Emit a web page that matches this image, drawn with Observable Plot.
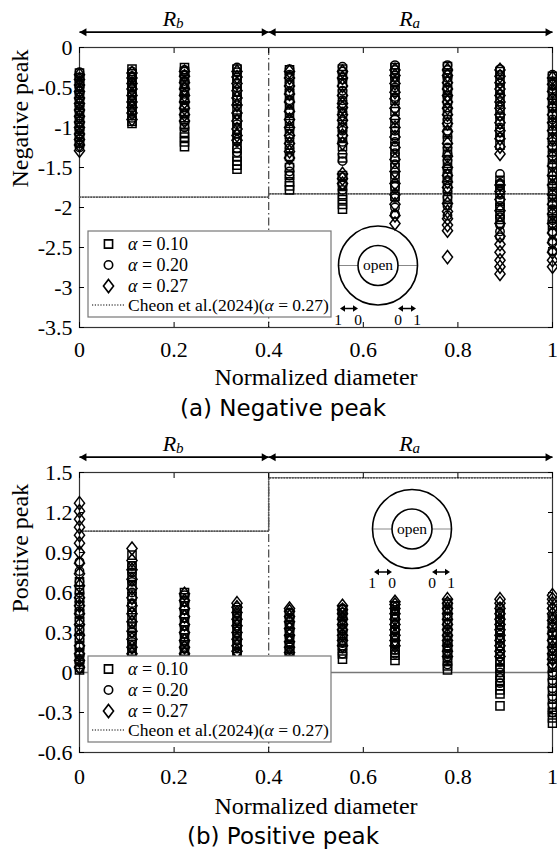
<!DOCTYPE html>
<html><head><meta charset="utf-8">
<script src="https://cdn.jsdelivr.net/npm/d3@7"></script>
<script src="https://cdn.jsdelivr.net/npm/@observablehq/plot@0.6"></script>
<style>body{margin:0;background:#fff;} svg{display:block;}</style>
</head><body><div id="chart"></div>
<script>
const xPositions = [0, 0.111, 0.222, 0.333, 0.444, 0.556, 0.667, 0.778, 0.889, 1];
const xTicks = [0, 0.2, 0.4, 0.6, 0.8, 1];
const negTicks = [0, -0.5, -1, -1.5, -2, -2.5, -3, -3.5];
const posTicks = [1.5, 1.2, 0.9, 0.6, 0.3, 0, -0.3, -0.6];
const seriesNames = ["0.10", "0.20", "0.27"];
const cheonLabel = "Cheon et al.(2024)(";
const cheonX = [0, 0.4, 0.4, 1];
const cheonNeg = [-1.87, -1.87, -1.83, -1.83];
const cheonPos = [1.06, 1.06, 1.46, 1.46];
const regions = [{x1: 0, x2: 0.4, sub: "b"}, {x1: 0.4, x2: 1, sub: "a"}];

// Negative peak (panel a), one list per column of xPositions
const negSquare = [
  [-0.32,-0.38,-0.45,-0.52,-0.6,-0.68,-0.75,-0.82,-0.9,-0.98,-1.05,-1.12,-1.18],
  [-0.27,-0.33,-0.4,-0.48,-0.55,-0.62,-0.7,-0.78,-0.85,-0.92,-0.95],
  [-0.25,-0.3,-0.38,-0.46,-0.55,-0.64,-0.73,-0.82,-0.9,-0.98,-1.06,-1.12,-1.18,-1.24],
  [-0.27,-0.35,-0.45,-0.55,-0.66,-0.78,-0.9,-1.02,-1.14,-1.26,-1.36,-1.42,-1.47,-1.52],
  [-0.28,-0.36,-0.47,-0.58,-0.7,-0.82,-0.95,-1.08,-1.22,-1.36,-1.5,-1.6,-1.68,-1.73,-1.78],
  [-0.27,-0.34,-0.45,-0.58,-0.72,-0.86,-1.0,-1.12,-1.24,-1.38,-1.6,-1.72,-1.84,-1.9,-1.96,-2.02],
  [-0.25,-0.32,-0.42,-0.54,-0.66,-0.8,-0.95,-1.1,-1.24,-1.37,-1.5,-1.62,-1.74,-1.86],
  [-0.24,-0.32,-0.42,-0.54,-0.66,-0.8,-0.94,-1.08,-1.16,-1.3,-1.45,-1.58,-1.62,-1.76,-1.9],
  [-0.3,-0.4,-0.52,-0.64,-0.78,-0.92,-1.06,-1.22,-1.66,-1.72,-1.78,-1.92,-2.0,-2.08,-2.15],
  [-0.36,-0.46,-0.58,-0.7,-0.84,-0.98,-1.12,-1.25,-1.4,-1.55,-1.66,-1.8,-1.94,-2.06,-2.14,-2.22]
];
const negCircle = [
  [-0.31,-0.37,-0.44,-0.5,-0.58,-0.65,-0.73,-0.8,-0.88,-0.95,-1.03,-1.1,-1.2,-1.25],
  [-0.3,-0.36,-0.43,-0.5,-0.58,-0.66,-0.73,-0.8,-0.88],
  [-0.28,-0.34,-0.42,-0.5,-0.58,-0.66,-0.75,-0.83,-0.92,-1.0],
  [-0.25,-0.31,-0.4,-0.5,-0.6,-0.72,-0.84,-0.96,-1.08,-1.18,-1.26,-1.31],
  [-0.27,-0.34,-0.44,-0.55,-0.66,-0.78,-0.9,-1.02,-1.14,-1.26,-1.38,-1.48,-1.55,-1.6],
  [-0.24,-0.3,-0.4,-0.54,-0.66,-0.8,-0.92,-1.04,-1.18,-1.33,-1.42,-1.62,-1.72,-1.78],
  [-0.22,-0.28,-0.38,-0.5,-0.62,-0.76,-0.9,-1.04,-1.18,-1.32,-1.46,-1.6,-1.74,-1.88,-2.0,-2.08],
  [-0.22,-0.28,-0.38,-0.5,-0.62,-0.75,-0.9,-1.04,-1.25,-1.33,-1.41,-1.52,-1.66,-1.8,-1.87,-1.98,-2.1],
  [-0.27,-0.34,-0.45,-0.58,-0.72,-0.86,-1.0,-1.12,-1.58,-1.7,-1.84,-1.98,-2.12,-2.22,-2.3,-2.37],
  [-0.34,-0.42,-0.52,-0.64,-0.76,-0.9,-1.04,-1.18,-1.32,-1.46,-1.6,-1.74,-1.88,-2.02,-2.16,-2.3,-2.42,-2.54]
];
const negDiamond = [
  [-0.34,-0.4,-0.47,-0.55,-0.63,-0.7,-0.78,-0.86,-0.93,-1.0,-1.08,-1.15,-1.22,-1.29],
  [-0.32,-0.38,-0.45,-0.52,-0.6,-0.68,-0.75,-0.82,-0.9],
  [-0.3,-0.36,-0.44,-0.52,-0.6,-0.68,-0.76,-0.84,-0.92],
  [-0.3,-0.37,-0.45,-0.54,-0.63,-0.72,-0.82,-0.92,-1.02,-1.1,-1.16],
  [-0.3,-0.38,-0.48,-0.58,-0.68,-0.8,-0.9,-1.0,-1.1,-1.2,-1.3,-1.38],
  [-0.3,-0.38,-0.48,-0.6,-0.7,-0.75,-0.84,-0.91,-1.0,-1.1,-1.2,-1.58,-1.64,-1.7],
  [-0.28,-0.35,-0.45,-0.56,-0.64,-0.76,-0.89,-1.0,-1.12,-1.25,-1.4,-1.55,-1.7,-1.84,-1.96,-2.1,-2.2],
  [-0.28,-0.35,-0.44,-0.52,-0.6,-0.68,-0.76,-0.84,-0.95,-1.05,-1.2,-1.36,-1.5,-1.6,-1.68,-1.75,-1.95,-2.05,-2.14,-2.22,-2.29,-2.62],
  [-0.28,-0.36,-0.44,-0.52,-0.6,-0.68,-0.76,-0.84,-0.94,-1.04,-1.14,-1.24,-1.33,-1.72,-1.8,-1.9,-2.04,-2.2,-2.36,-2.46,-2.56,-2.66,-2.74,-2.83],
  [-0.38,-0.46,-0.55,-0.64,-0.74,-0.84,-0.94,-1.04,-1.14,-1.24,-1.36,-1.48,-1.6,-1.72,-1.84,-1.96,-2.08,-2.2,-2.32,-2.44,-2.56,-2.66,-2.74]
];

// Positive peak (panel b)
const posSquare = [
  [0.02,0.06,0.1,0.15,0.2,0.26,0.32,0.38,0.44,0.5,0.56,0.62,0.68],
  [0.12,0.16,0.21,0.27,0.34,0.41,0.49,0.57,0.65,0.72,0.8,0.88],
  [0.12,0.16,0.21,0.26,0.32,0.38,0.44,0.5,0.56,0.6],
  [0.14,0.18,0.22,0.27,0.32,0.37,0.42,0.47],
  [0.12,0.16,0.2,0.25,0.3,0.35,0.4,0.44],
  [0.1,0.14,0.18,0.23,0.28,0.33,0.38,0.43,0.47],
  [0.09,0.13,0.17,0.22,0.27,0.32,0.37,0.42,0.47,0.5],
  [0.02,0.05,0.09,0.14,0.19,0.24,0.3,0.36,0.42,0.47,0.52],
  [-0.25,-0.16,-0.13,-0.1,-0.06,-0.02,0.03,0.08,0.14,0.2,0.26,0.32,0.38,0.44],
  [-0.38,-0.34,-0.3,-0.26,-0.2,-0.14,-0.08,-0.02,0.04,0.1,0.16,0.22,0.28,0.34,0.4]
];
const posCircle = [
  [0.03,0.08,0.13,0.19,0.25,0.32,0.39,0.46,0.53,0.6,0.68,0.76,0.83],
  [0.13,0.18,0.23,0.3,0.37,0.45,0.52,0.6,0.68,0.75,0.8],
  [0.13,0.18,0.23,0.29,0.35,0.41,0.47,0.53,0.58],
  [0.15,0.19,0.24,0.29,0.34,0.39,0.44,0.49],
  [0.13,0.17,0.21,0.26,0.31,0.36,0.41,0.45],
  [0.14,0.18,0.22,0.26,0.31,0.36,0.41,0.45,0.48],
  [0.14,0.17,0.21,0.26,0.31,0.36,0.41,0.46,0.5],
  [0.06,0.1,0.14,0.18,0.22,0.27,0.32,0.37,0.42,0.47,0.51],
  [-0.08,-0.04,0.0,0.04,0.08,0.12,0.16,0.2,0.25,0.3,0.35,0.4,0.45,0.49],
  [-0.3,-0.24,-0.18,-0.12,-0.06,0.0,0.06,0.12,0.18,0.24,0.3,0.36,0.42,0.48]
];
const posDiamond = [
  [0.04,0.09,0.14,0.2,0.28,0.36,0.44,0.5,0.56,0.65,0.74,0.82,0.9,0.97,1.03,1.09,1.15,1.21,1.27],
  [0.14,0.19,0.25,0.31,0.38,0.44,0.5,0.56,0.63,0.7,0.77,0.84,0.93],
  [0.14,0.19,0.24,0.3,0.36,0.42,0.48,0.54,0.59],
  [0.16,0.2,0.25,0.3,0.35,0.4,0.45,0.49,0.52],
  [0.15,0.19,0.23,0.28,0.33,0.38,0.42,0.46,0.48],
  [0.2,0.24,0.28,0.32,0.36,0.4,0.44,0.47,0.5],
  [0.2,0.24,0.28,0.32,0.36,0.4,0.44,0.48,0.51,0.53],
  [0.12,0.16,0.2,0.24,0.28,0.32,0.36,0.4,0.44,0.48,0.52,0.55],
  [0.12,0.16,0.2,0.24,0.28,0.32,0.36,0.4,0.44,0.48,0.52,0.55],
  [0.06,0.1,0.14,0.19,0.24,0.29,0.34,0.39,0.44,0.48,0.52,0.55,0.58]
];

const serif = "'Liberation Serif','Times New Roman',serif";
const capFont = "'DejaVu Sans','Noto Sans',sans-serif";
const W = 557, ML = 79, MR = 5;

// custom tall diamond (MATLAB-like)
const tallDiamond = {draw(ctx, size) {
  const w = Math.sqrt(size / 0.65), h = 1.3 * w;
  ctx.moveTo(0, -h / 2); ctx.lineTo(w / 2, 0); ctx.lineTo(0, h / 2); ctx.lineTo(-w / 2, 0); ctx.closePath();
}};
const symSpecs = [
  {symbol: "square", r: 4.6},
  {symbol: "circle", r: 4.2},
  {symbol: tallDiamond, r: 4.6}
];

function flatten(cols) {
  return cols.flatMap((vals, i) => vals.map(v => ({x: xPositions[i], y: v})));
}

function makePanel(cfg) {
  const yMax = cfg.yDomain[1];
  const fmt = d => String(d);
  const mid = d => (d.x1 + d.x2) / 2;
  const series = [cfg.sq, cfg.ci, cfg.di];
  const svg = Plot.plot({
    width: W, height: cfg.height,
    marginLeft: ML, marginRight: MR, marginTop: cfg.marginTop, marginBottom: cfg.marginBottom,
    style: {fontFamily: serif, fontSize: "22px", background: "transparent", color: "#000"},
    x: {domain: [0, 1], label: null},
    y: {domain: cfg.yDomain, label: null},
    marks: [
      Plot.frame({stroke: "#333", strokeWidth: 1.2}),
      Plot.ruleX([0.4], {stroke: "#444", strokeWidth: 1.2, strokeDasharray: "8,3,1.5,3"}),
      cfg.zeroLine ? Plot.ruleY([0], {stroke: "#777", strokeWidth: 1.4}) : null,
      Plot.line(cheonX.map((x, i) => ({x, y: cfg.cheon[i]})), {x: "x", y: "y", stroke: "#555", strokeWidth: 1.6, strokeDasharray: "1.2,1.6"}),
      ...series.map((s, k) => Plot.dot(flatten(s), {x: "x", y: "y", symbol: symSpecs[k].symbol, r: symSpecs[k].r, stroke: "#000", fill: "none", strokeWidth: 1.5})),
      Plot.axisX({anchor: "bottom", ticks: xTicks, tickSize: -5, tickPadding: cfg.xPad, tickFormat: fmt, label: null, fontSize: 22, fontFamily: serif}),
      Plot.axisX({anchor: "top", ticks: xTicks, tickSize: -5, tickFormat: () => "", label: null}),
      Plot.axisY({anchor: "left", ticks: cfg.yTicks, tickSize: -5, tickPadding: 12, tickFormat: fmt, label: null, fontSize: 22, fontFamily: serif}),
      Plot.axisY({anchor: "right", ticks: cfg.yTicks, tickSize: -5, tickFormat: () => "", label: null}),
      Plot.text(["Normalized diameter"], {frameAnchor: "bottom", dy: cfg.xLabelDy, fontSize: 24, lineAnchor: "middle", fontFamily: serif}),
      Plot.text([cfg.yLabel], {frameAnchor: "left", dx: -59, rotate: -90, fontSize: 24, lineAnchor: "middle", fontFamily: serif}),
      Plot.link(regions, {x1: "x1", x2: "x2", y1: yMax, y2: yMax, dy: -15.3, stroke: "#000", strokeWidth: 1.8}),
      Plot.dot(regions, {x: "x1", y: yMax, dy: -15.3, dx: 4.6, symbol: "triangle", rotate: -90, r: 3, fill: "#000", stroke: null}),
      Plot.dot(regions, {x: "x2", y: yMax, dy: -15.3, dx: -4.6, symbol: "triangle", rotate: 90, r: 3, fill: "#000", stroke: null}),
      Plot.text(regions, {x: mid, y: yMax, dy: -29, dx: 2, text: () => "R", fontStyle: "italic", textAnchor: "end", fontSize: 22, lineAnchor: "middle", fontFamily: serif}),
      Plot.text(regions, {x: mid, y: yMax, dy: -24, dx: 2, text: "sub", fontStyle: "italic", textAnchor: "start", fontSize: 15, lineAnchor: "middle", fontFamily: serif})
    ]
  });

  const root = d3.select(svg);
  const frameBottom = cfg.height - cfg.marginBottom;

  // caption
  root.append("text").attr("x", 283).attr("y", frameBottom + cfg.captionDy).attr("dy", "0.35em")
    .attr("text-anchor", "middle").attr("font-family", capFont).attr("font-size", 23)
    .text(cfg.caption);

  // legend
  const lg = root.append("g").attr("transform", `translate(88,${frameBottom - 96})`).attr("text-anchor", "start").attr("font-family", serif);
  lg.append("rect").attr("width", 243).attr("height", 86).attr("fill", "#fff").attr("stroke", "#777").attr("stroke-width", 1.2);
  const rowsY = [13, 34, 55];
  seriesNames.forEach((name, k) => {
    const sym = k === 2 ? tallDiamond : (k === 0 ? d3.symbolSquare : d3.symbolCircle);
    lg.append("path").attr("transform", `translate(20.5,${rowsY[k]})`)
      .attr("d", d3.symbol(sym, Math.PI * symSpecs[k].r ** 2)())
      .attr("fill", "none").attr("stroke", "#000").attr("stroke-width", 1.6);
    const t = lg.append("text").attr("x", 40).attr("y", rowsY[k]).attr("dy", "0.35em").attr("font-size", 18);
    t.append("tspan").attr("font-style", "italic").text("α");
    t.append("tspan").text(" = " + name);
  });
  lg.append("line").attr("x1", 4).attr("x2", 36).attr("y1", 74).attr("y2", 74)
    .attr("stroke", "#555").attr("stroke-width", 1.6).attr("stroke-dasharray", "1.2,1.6");
  const ct = lg.append("text").attr("x", 40).attr("y", 74).attr("dy", "0.35em").attr("font-size", 17.5);
  ct.append("tspan").text(cheonLabel);
  ct.append("tspan").attr("font-style", "italic").text("α");
  ct.append("tspan").text(" = 0.27)");

  // inset diagram
  const ins = root.append("g").attr("transform", `translate(${cfg.inset[0]},${cfg.inset[1]})`).attr("font-family", serif);
  ins.append("line").attr("x1", -39.5).attr("x2", -20).attr("stroke", "#888").attr("stroke-width", 1);
  ins.append("line").attr("x1", 20).attr("x2", 39.5).attr("stroke", "#888").attr("stroke-width", 1);
  ins.append("circle").attr("r", 39.5).attr("fill", "none").attr("stroke", "#000").attr("stroke-width", 1.6);
  ins.append("circle").attr("r", 20).attr("fill", "none").attr("stroke", "#000").attr("stroke-width", 1.6);
  ins.append("text").attr("text-anchor", "middle").attr("dy", "0.3em").attr("font-size", 15.5).text("open");
  [[-38, -20], [20, 38]].forEach(([a, b]) => {
    ins.append("line").attr("x1", a + 3).attr("x2", b - 3).attr("y1", 43).attr("y2", 43).attr("stroke", "#000").attr("stroke-width", 1.5);
    ins.append("path").attr("d", `M${a},43l5,-3.2v6.4z`).attr("fill", "#000");
    ins.append("path").attr("d", `M${b},43l-5,-3.2v6.4z`).attr("fill", "#000");
  });
  [[-40, "1"], [-20, "0"], [20, "0"], [39, "1"]].forEach(([x, s]) => {
    ins.append("text").attr("x", x).attr("y", 54).attr("dy", "0.35em").attr("text-anchor", "middle").attr("font-size", 15.5).text(s);
  });
  return svg;
}

const chart = document.getElementById("chart");
chart.appendChild(makePanel({
  height: 430, marginTop: 47, marginBottom: 103, yDomain: [-3.5, 0], yTicks: negTicks,
  sq: negSquare, ci: negCircle, di: negDiamond, cheon: cheonNeg, zeroLine: false,
  yLabel: "Negative peak", caption: "(a) Negative peak", xPad: 19, xLabelDy: 50, captionDy: 81,
  inset: [378, 265.5]
}));
chart.appendChild(makePanel({
  height: 421, marginTop: 42, marginBottom: 99, yDomain: [-0.6, 1.5], yTicks: posTicks,
  sq: posSquare, ci: posCircle, di: posDiamond, cheon: cheonPos, zeroLine: true,
  yLabel: "Positive peak", caption: "(b) Positive peak", xPad: 21, xLabelDy: 54, captionDy: 84,
  inset: [412, 99]
}));
</script>
</body></html>
